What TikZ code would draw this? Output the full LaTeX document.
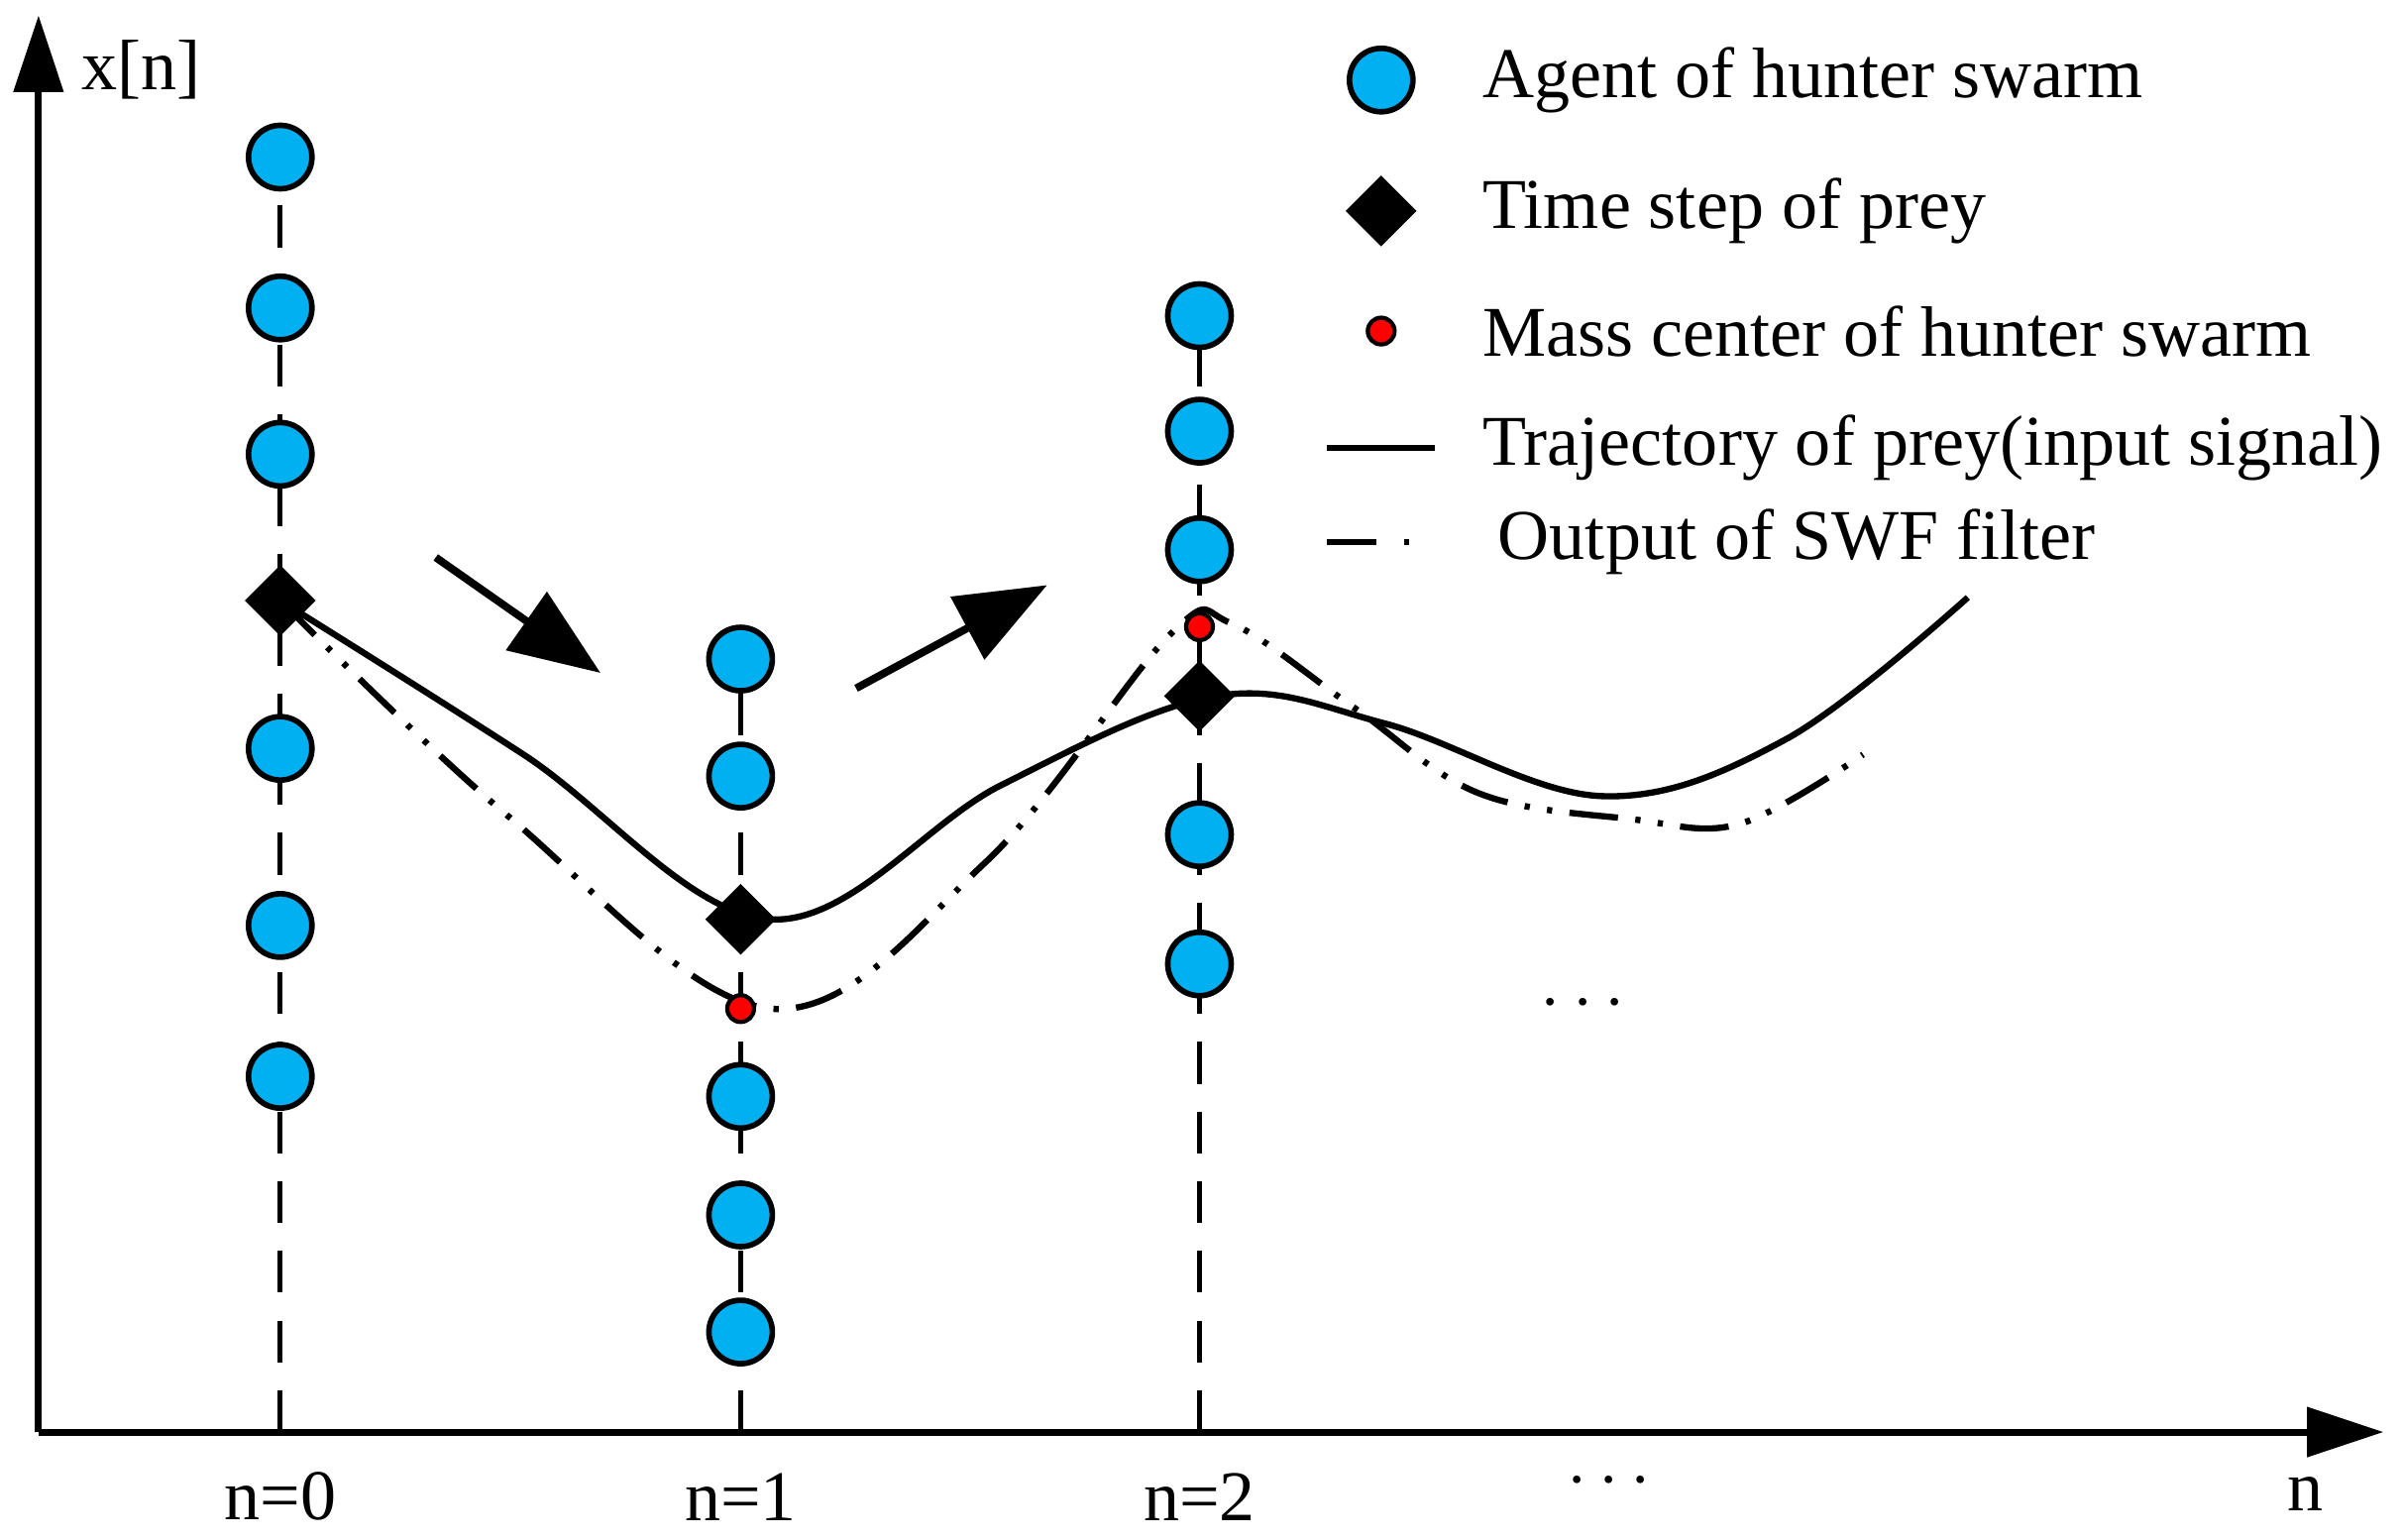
\documentclass[tikz,border=0pt]{standalone}
\usepackage{fontspec}
\setmainfont{Liberation Serif}
\usetikzlibrary{shapes.geometric,arrows.meta}
\definecolor{agentblue}{RGB}{0,176,240}
\tikzset{
  agent/.style={circle, draw=black, line width=1.6pt, fill=agentblue, minimum size=0.64cm, inner sep=0pt},
  prey/.style={diamond, fill=black, minimum size=0.72cm, inner sep=0pt},
  center/.style={circle, draw=black, line width=1.2pt, fill=red, minimum size=0.27cm, inner sep=0pt},
  lbl/.style={font=\fontsize{20.5}{24}\selectfont},
  col/.style={line width=1.4pt, dash pattern=on 12pt off 8pt},
  motion/.style={line width=2.2pt, -{Triangle[length=26pt,width=20pt]}}
}
\begin{document}
\begin{tikzpicture}[x=0.01554cm, y=-0.01554cm]
\useasboundingbox (0,0) rectangle (1560,1000);

% Achsen
\coordinate (o) at (25,930);
\coordinate (ytop) at (25,10);
\coordinate (xend) at (1548,930);
\draw[line width=2pt, -{Triangle[length=22pt,width=14pt]}] (o) -- (ytop);
\draw[line width=2pt, -{Triangle[length=22pt,width=14pt]}] (o) -- (xend);
\node[lbl, anchor=west] (ylab) at (45,45) {x[n]};
\node[lbl] (xlab) at (1497,970) {n};

% Spalten
\foreach \c/\x/\top in {0/182/102, 1/481/428, 2/779/205}{
  \coordinate (b\c) at (\x,930);
  \coordinate (t\c) at (\x,\top);
  \draw[col] (b\c) -- (t\c);
  \node[lbl] (n\c) at (\x,972) {n=\c};
}
\node[lbl] (dotsx) at (1045,962) {$\cdots$};
\node[lbl] (dotsm) at (1028,652) {$\cdots$};

% Kurven
\draw[line width=1.8pt] plot[smooth, tension=0.6] coordinates {(182,390) (340,490) (500,597) (650,510) (790,452) (900,470) (1040,517) (1160,480) (1278,388)};
\draw[line width=1.8pt, dash pattern=on 14pt off 5pt on 1.5pt off 5pt on 1.5pt off 5pt] plot[smooth, tension=0.6] coordinates {(182,390) (330,530) (500,655) (640,560) (760,412) (800,405) (880,460) (960,515) (1060,532) (1130,535) (1210,490)};

% Agenten
\foreach \y [count=\i] in {102,200,295,486,601,699}{\node[agent] (a0\i) at (182,\y) {};}
\foreach \y [count=\i] in {428,504,712,789,865}{\node[agent] (a1\i) at (481,\y) {};}
\foreach \y [count=\i] in {205,280,357,542,626}{\node[agent] (a2\i) at (779,\y) {};}

% Beute und Schwerpunkt
\node[prey] (p0) at (182,390) {};
\node[prey] (p1) at (481,597) {};
\node[prey] (p2) at (779,452) {};
\node[center] (m1) at (481,655) {};
\node[center] (m2) at (779,407) {};

% Pfeile
\coordinate (r1s) at (283,362); \coordinate (r1e) at (390,437);
\coordinate (r2s) at (556,447); \coordinate (r2e) at (680,380);
\draw[motion] (r1s) -- (r1e);
\draw[motion] (r2s) -- (r2e);

% Legende
\node[agent] (lg1) at (897,52) {};
\node[prey] (lg2) at (897,137) {};
\node[center] (lg3) at (897,215) {};
\coordinate (lg4a) at (862,291); \coordinate (lg4b) at (932,291);
\coordinate (lg5a) at (862,352); \coordinate (lg5b) at (932,352);
\draw[line width=1.8pt] (lg4a) -- (lg4b);
\draw[line width=1.8pt, dash pattern=on 14pt off 8pt on 1.5pt off 8pt] (lg5a) -- (lg5b);
\node[lbl, anchor=west] (t1) at (955,52) {Agent of hunter swarm};
\node[lbl, anchor=west] (t2) at (955,137) {Time step of prey};
\node[lbl, anchor=west] (t3) at (955,215) {Mass center of hunter swarm};
\node[lbl, anchor=west] (t4) at (955,291) {Trajectory of prey(input signal)};
\node[lbl, anchor=west] (t5) at (965,352) {Output of SWF filter};
\end{tikzpicture}
\end{document}
